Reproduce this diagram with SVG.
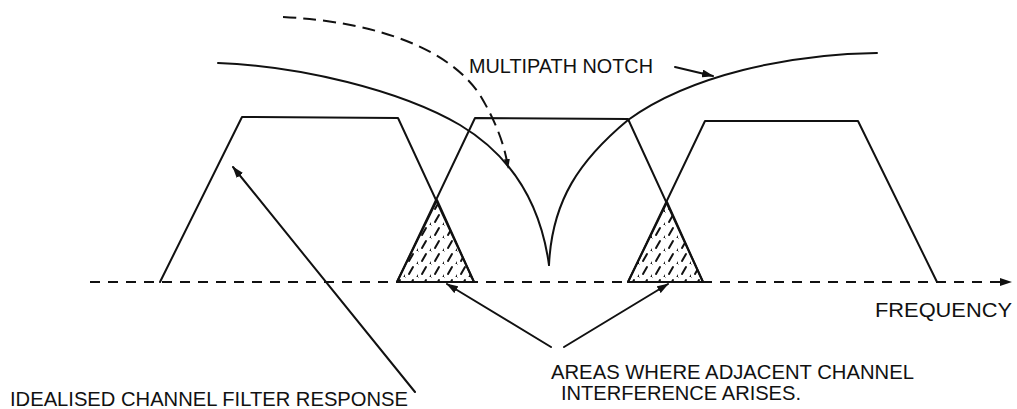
<svg xmlns="http://www.w3.org/2000/svg" width="1017" height="409" viewBox="0 0 1017 409">
<style>
.ln{fill:none;stroke:#111;stroke-width:2;stroke-linejoin:round;stroke-linecap:round}
.hz{fill:url(#hatch);stroke:#111;stroke-width:2;stroke-linejoin:round}
.dash{fill:none;stroke:#111;stroke-width:2;stroke-dasharray:10 8}
.dash2{fill:none;stroke:#111;stroke-width:2;stroke-dasharray:13 7}
.tx{font-family:"Liberation Sans",Arial,sans-serif;font-size:21px;fill:#111}
</style>
<defs>
<marker id="ah" viewBox="0 0 12 8" refX="11" refY="4" markerWidth="12" markerHeight="8" markerUnits="userSpaceOnUse" orient="auto">
<path d="M0,0 L12,4 L0,8 Z" fill="#111"/>
</marker>
<marker id="ahs" viewBox="0 0 10 6" refX="9" refY="3" markerWidth="10" markerHeight="6" markerUnits="userSpaceOnUse" orient="auto">
<path d="M0,0 L10,3 L0,6 Z" fill="#111"/>
</marker>
<pattern id="hatch" patternUnits="userSpaceOnUse" width="13" height="13" x="2" y="4">
<path d="M4,10 L8,3" stroke="#111" stroke-width="2" stroke-linecap="round"/>
<path d="M10.5,16.5 L14.5,9.5 M-2.5,3.5 L1.5,-3.5" stroke="#111" stroke-width="2" stroke-linecap="round"/>
</pattern>
</defs>

<g id="axis">
<line class="dash" x1="90" y1="282" x2="1003" y2="282"/>
<path d="M1000,278 L1012,282 L1000,286 Z" fill="#111"/>
<text class="tx" x="875" y="317" textLength="137" lengthAdjust="spacingAndGlyphs">FREQUENCY</text>
</g>

<g id="hatched-areas">
<path class="hz" d="M437,200 L397,282 L474,282 Z"/>
<path class="hz" d="M667,202 L628,282 L703,282 Z"/>
</g>

<g id="filter-left">
<path class="ln" d="M160,282 L242,117 L398,118 L474,282"/>
</g>
<g id="filter-middle">
<path class="ln" d="M397,282 L475,118 L628,119 L703,282"/>
</g>
<g id="filter-right">
<path class="ln" d="M628,282 L705,121 L858,121 L937,282"/>
</g>

<g id="multipath-notch">
<path class="ln" d="M218,63 C300,66 400,90 460,125 C510,155 540,200 549,265"/>
<path class="ln" d="M549,265 C552,200 580,160 628,120 C690,75 790,54 877,53"/>
<path class="dash2" d="M283,17 C380,22 450,50 480,95 C495,120 505,145 508,168" marker-end="url(#ahs)"/>
<text class="tx" x="469" y="73" textLength="184" lengthAdjust="spacingAndGlyphs">MULTIPATH NOTCH</text>
</g>

<g id="connectors">
<line class="ln" x1="675" y1="67" x2="713" y2="76" marker-end="url(#ah)"/>
<line class="ln" x1="415" y1="392" x2="233" y2="167" marker-end="url(#ah)"/>
<line class="ln" x1="551" y1="347" x2="447" y2="284" marker-end="url(#ah)"/>
<line class="ln" x1="564" y1="347" x2="668" y2="284" marker-end="url(#ah)"/>
</g>

<g id="labels">
<text class="tx" x="10" y="406" textLength="398" lengthAdjust="spacingAndGlyphs">IDEALISED CHANNEL FILTER RESPONSE</text>
<text class="tx" x="551" y="379" textLength="363" lengthAdjust="spacingAndGlyphs">AREAS WHERE ADJACENT CHANNEL</text>
<text class="tx" x="561" y="400" textLength="240" lengthAdjust="spacingAndGlyphs">INTERFERENCE ARISES.</text>
</g>
</svg>
